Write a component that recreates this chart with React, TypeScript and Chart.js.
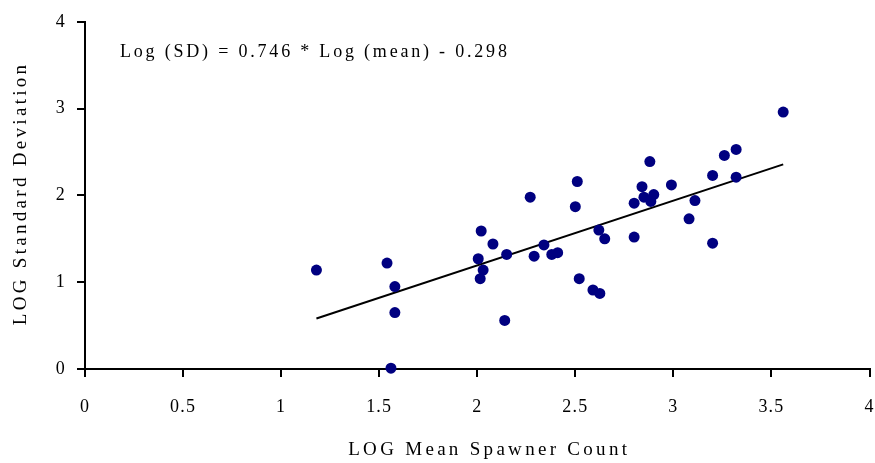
import React, { useEffect, useRef } from "react";
import { Chart, registerables } from "chart.js";

Chart.register(...registerables);

// ---- data ----
const meanLog = [
  1.18, 1.54, 1.58, 1.58, 1.56, 2.02, 2.08, 2.005, 2.03, 2.015,
  2.15, 2.14, 2.27, 2.29, 2.34, 2.38, 2.41, 2.51, 2.5, 2.52,
  2.59, 2.625, 2.62, 2.65, 2.8, 2.8, 2.84, 2.88, 2.85, 2.9,
  2.885, 2.99, 3.11, 3.08, 3.2, 3.2, 3.26, 3.32, 3.32, 3.56,
];
const sdLog = [
  1.14, 1.22, 0.95, 0.65, 0.01, 1.59, 1.44, 1.27, 1.14, 1.04,
  1.32, 0.56, 1.98, 1.3, 1.43, 1.32, 1.34, 2.16, 1.87, 1.04,
  0.91, 0.87, 1.6, 1.5, 1.52, 1.91, 2.1, 2.39, 1.98, 2.01,
  1.93, 2.12, 1.94, 1.73, 2.23, 1.45, 2.46, 2.53, 2.21, 2.96,
];
const fitSlope = 0.746;
const fitIntercept = -0.298;
const fitRange = [1.18, 3.56];
const xTicks = [0, 0.5, 1, 1.5, 2, 2.5, 3, 3.5, 4];
const yTicks = [0, 1, 2, 3, 4];
const equationText = "Log (SD) = 0.746 * Log (mean) - 0.298";
const xTitle = "LOG Mean Spawner Count";
const yTitle = "LOG Standard Deviation";

const FONT = '"Liberation Serif", "Times New Roman", serif';

const textPlugin = {
  id: "texts",
  beforeDraw(chart: any) {
    (chart.ctx as any).letterSpacing = "1.2px";
  },
  afterDraw(chart: any) {
    const ctx = chart.ctx as any;
    const { left, right, top, bottom } = chart.chartArea;
    ctx.save();
    ctx.fillStyle = "#000";
    ctx.font = `18px ${FONT}`;
    ctx.letterSpacing = "2.8px";
    ctx.textAlign = "left";
    ctx.textBaseline = "middle";
    ctx.fillText(equationText, 120, 52);
    ctx.font = `19px ${FONT}`;
    ctx.letterSpacing = "3.3px";
    ctx.textAlign = "center";
    ctx.fillText(xTitle, (left + right) / 2 + 12, 450);
    ctx.translate(21, (top + bottom) / 2 - 2);
    ctx.rotate(-Math.PI / 2);
    ctx.fillText(yTitle, 0, 0);
    ctx.restore();
  },
};

export default function App() {
  const ref = useRef<HTMLCanvasElement | null>(null);
  useEffect(() => {
    document.body.style.margin = "0";
    const canvas = ref.current!;
    const points = meanLog.map((x, i) => ({ x, y: sdLog[i] }));
    const fit = fitRange.map((x) => ({ x, y: fitSlope * x + fitIntercept }));
    const axisCommon = {
      grid: {
        drawOnChartArea: false,
        drawTicks: true,
        tickLength: 8,
        color: "#000",
        lineWidth: 2,
      },
      border: { display: true, color: "#000", width: 2 },
    };
    const chart = new Chart(canvas, {
      type: "scatter",
      data: {
        datasets: [
          {
            data: points,
            backgroundColor: "#000080",
            borderColor: "#000080",
            borderWidth: 0,
            pointRadius: 5.5,
            clip: false as any,
          },
          {
            data: fit,
            showLine: true,
            borderColor: "#000",
            borderWidth: 2,
            pointRadius: 0,
            fill: false,
          } as any,
        ],
      },
      options: {
        animation: false,
        responsive: false,
        layout: { padding: { left: 0, right: 2, top: 19, bottom: 0 } },
        plugins: { legend: { display: false }, tooltip: { enabled: false } },
        scales: {
          x: {
            type: "linear",
            min: 0,
            max: 4,
            ...axisCommon,
            afterBuildTicks: (s: any) => {
              s.ticks = xTicks.map((v) => ({ value: v }));
            },
            afterFit: (s: any) => {
              s.height = 94;
              s.paddingLeft = 0;
              s.paddingRight = 0;
            },
            ticks: {
              color: "#000",
              font: { family: FONT, size: 18 },
              padding: 19,
              maxRotation: 0,
              autoSkip: false,
              callback: (v: any) => String(v),
            },
          },
          y: {
            type: "linear",
            min: 0,
            max: 4,
            ...axisCommon,
            afterBuildTicks: (s: any) => {
              s.ticks = yTicks.map((v) => ({ value: v }));
            },
            afterFit: (s: any) => {
              s.width = 85;
            },
            ticks: {
              color: "#000",
              font: { family: FONT, size: 18 },
              padding: 11,
              callback: (v: any) => String(v),
            },
          },
        },
      } as any,
      plugins: [textPlugin],
    });
    return () => chart.destroy();
  }, []);
  return (
    <div style={{ width: 875, height: 463 }}>
      <canvas ref={ref} width={875} height={463} />
    </div>
  );
}
